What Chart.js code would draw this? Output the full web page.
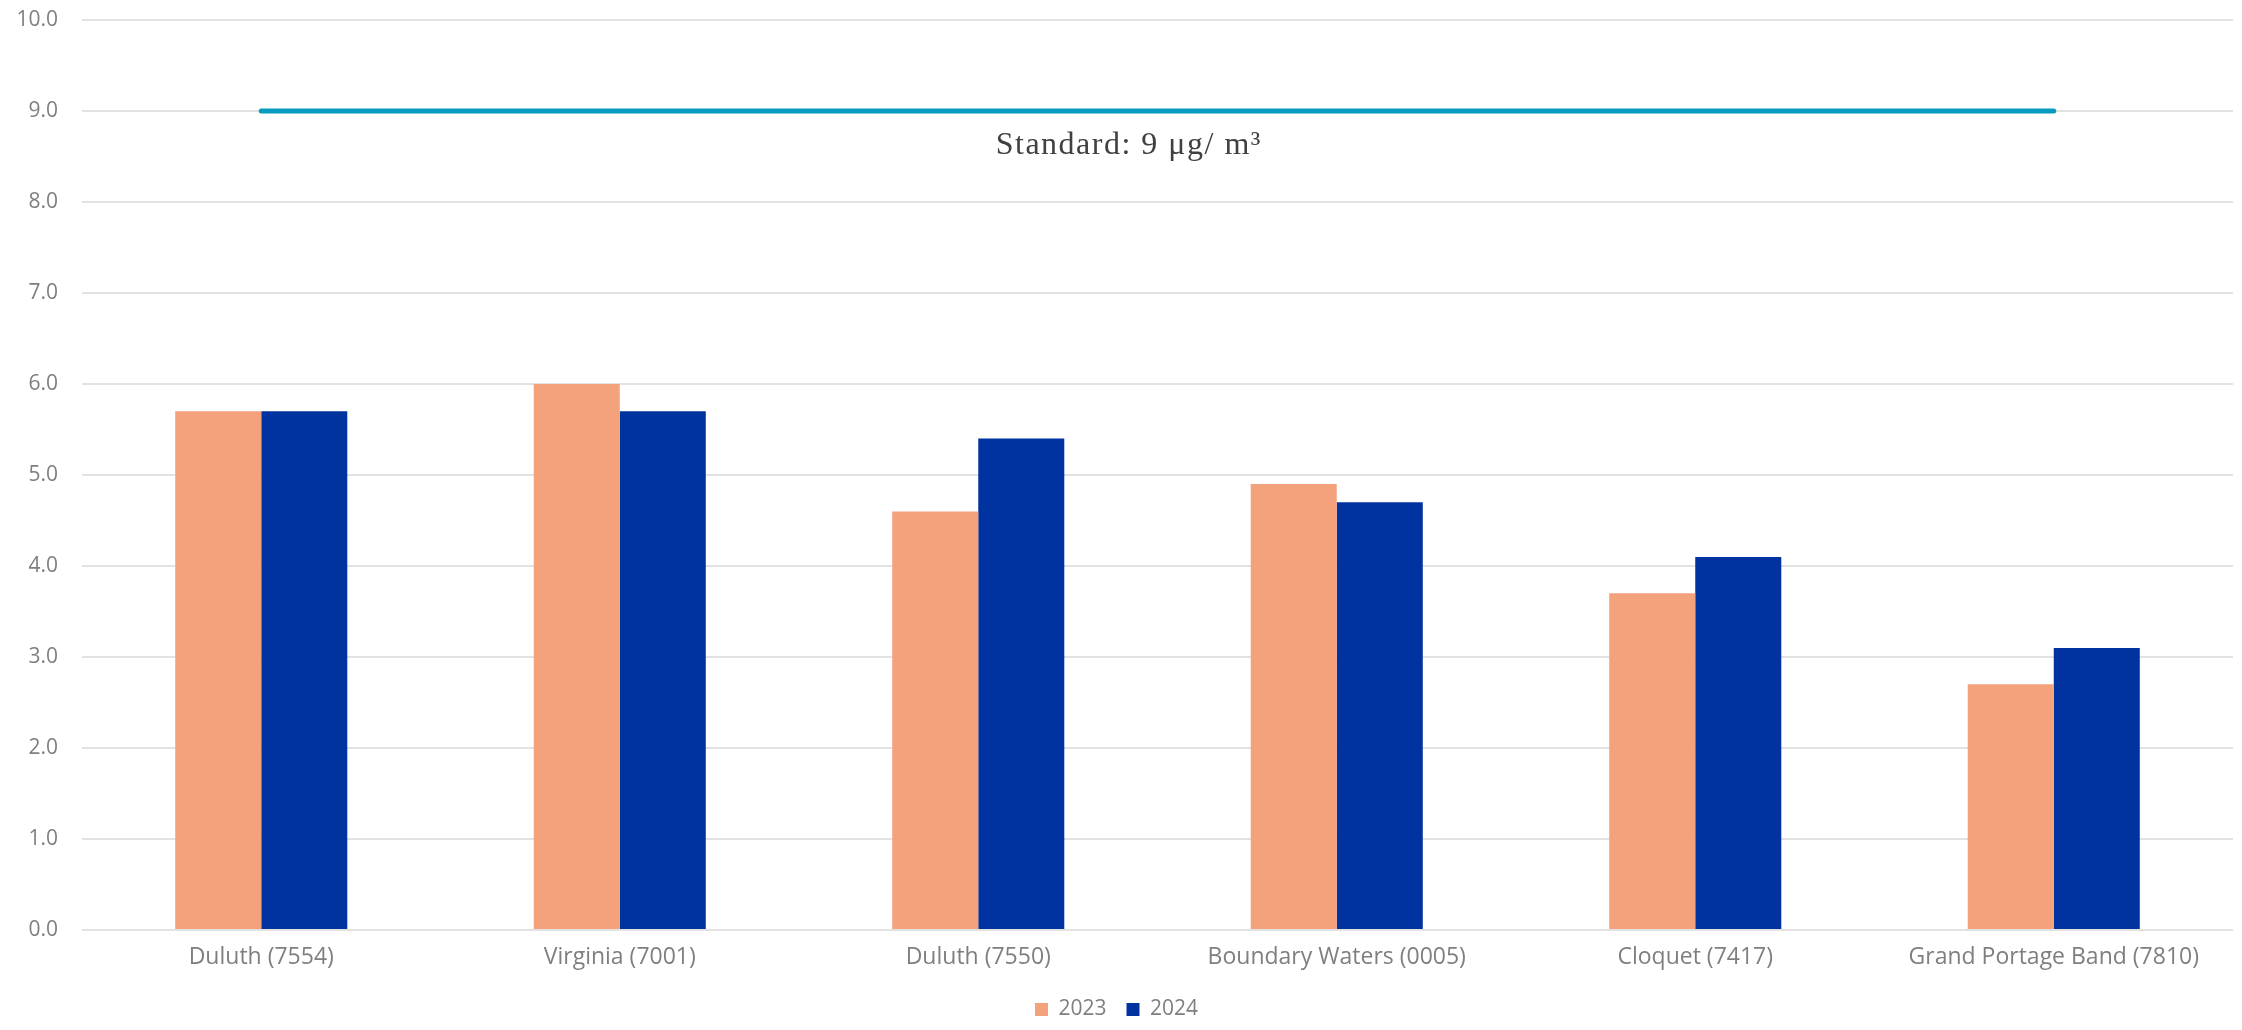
<!DOCTYPE html>
<html>
<head>
<meta charset="utf-8">
<script src="https://cdn.jsdelivr.net/npm/chart.js@4.4.1/dist/chart.umd.min.js"></script>
<style>
  html, body { margin: 0; padding: 0; background: #ffffff; }
  #wrap { width: 2242px; height: 1030px; }
</style>
</head>
<body>
<div id="wrap"><canvas id="pmChart"></canvas></div>
<script>
// Data
const sites = ['Duluth (7554)', 'Virginia (7001)', 'Duluth (7550)', 'Boundary Waters (0005)', 'Cloquet (7417)', 'Grand Portage Band (7810)'];
const values2023 = [5.7, 6.0, 4.6, 4.9, 3.7, 2.7];
const values2024 = [5.7, 5.7, 5.4, 4.7, 4.1, 3.1];
const standardValues = [9, 9, 9, 9, 9, 9];
const standardLabel = 'Standard: 9 \u03BCg/ m\u00B3';

const tickColor = '#7f7f7f';
const gridColor = '#e2e2e2';

// texto del estándar bajo la línea
const standardTextPlugin = {
    id: 'standardText',
    afterDatasetsDraw(chart) {
        const { ctx, scales } = chart;
        const x = scales.x.getPixelForValue(2.42);
        const y = scales.y.getPixelForValue(9) + 35;
        ctx.save();
        ctx.font = '32px "Liberation Serif", "DejaVu Serif", serif';
        ctx.letterSpacing = '1.5px';
        ctx.fillStyle = '#404040';
        ctx.textAlign = 'center';
        ctx.textBaseline = 'middle';
        ctx.fillText(standardLabel, x, y);
        ctx.restore();
    }
};

new Chart(document.getElementById('pmChart'), {
    type: 'bar',
    data: {
        labels: sites,
        datasets: [
            {
                type: 'line',
                label: 'Standard',
                data: standardValues,
                borderColor: '#079bbf',
                borderWidth: 5,
                borderCapStyle: 'round',
                pointRadius: 0,
                fill: false,
                order: 0
            },
            {
                label: '2023',
                data: values2023,
                backgroundColor: '#f4a27c',
                barPercentage: 1.0,
                categoryPercentage: 0.48,
                order: 1
            },
            {
                label: '2024',
                data: values2024,
                backgroundColor: '#0033a0',
                barPercentage: 1.0,
                categoryPercentage: 0.48,
                order: 1
            }
        ]
    },
    options: {
        responsive: true,
        maintainAspectRatio: false,
        animation: false,
        layout: { padding: { top: 20, right: 9, bottom: 0, left: 0 } },
        plugins: {
            legend: {
                display: true,
                position: 'bottom',
                labels: {
                    filter: item => item.text !== 'Standard',
                    boxWidth: 13,
                    boxHeight: 13,
                    padding: 20,
                    color: tickColor,
                    font: { family: '"Open Sans", sans-serif', size: 21 }
                }
            },
            tooltip: { enabled: false }
        },
        scales: {
            x: {
                grid: { display: false },
                border: { display: false },
                ticks: {
                    color: tickColor,
                    padding: 6,
                    font: { family: '"Open Sans", sans-serif', size: 23 }
                },
                afterFit: scale => { scale.height = 49; }
            },
            y: {
                min: 0,
                max: 10,
                grid: { color: gridColor, lineWidth: 2, drawTicks: true, tickLength: 20, tickColor: 'rgba(0,0,0,0)' },
                border: { display: false },
                ticks: {
                    stepSize: 1,
                    color: tickColor,
                    padding: 4,
                    font: { family: '"Open Sans", sans-serif', size: 21 },
                    callback: value => value.toFixed(1)
                },
                afterFit: scale => { scale.width = 82; }
            }
        }
    },
    plugins: [standardTextPlugin]
});
</script>
</body>
</html>
